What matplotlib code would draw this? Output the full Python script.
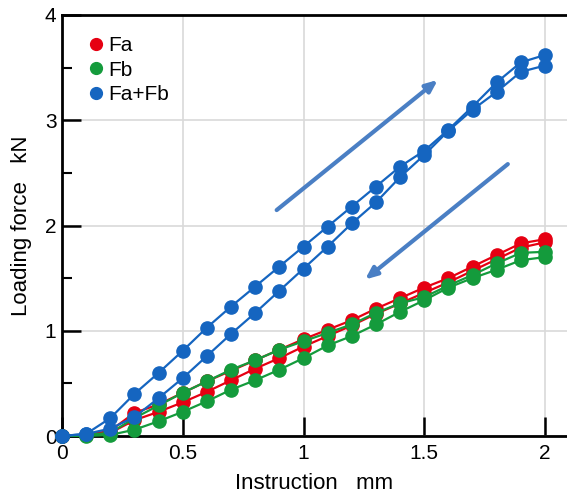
import numpy as np
import matplotlib
matplotlib.use('Agg')
import matplotlib.pyplot as plt
from matplotlib.ticker import MultipleLocator

plt.rcParams['font.family'] = ['Liberation Sans', 'DejaVu Sans']

# 変位 (mm)
x = [0.0, 0.1, 0.2, 0.3, 0.4, 0.5, 0.6, 0.7, 0.8, 0.9, 1.0,
     1.1, 1.2, 1.3, 1.4, 1.5, 1.6, 1.7, 1.8, 1.9, 2.0]

# 荷重 (kN) : 2 branches per series
fa_up = [0, 0.01, 0.05, 0.22, 0.30, 0.41, 0.52, 0.62, 0.72, 0.82, 0.92,
         1.01, 1.10, 1.21, 1.31, 1.41, 1.50, 1.61, 1.72, 1.83, 1.87]
fa_down = [0, 0.01, 0.03, 0.15, 0.23, 0.32, 0.42, 0.53, 0.64, 0.74, 0.85,
           0.95, 1.05, 1.16, 1.26, 1.36, 1.46, 1.57, 1.68, 1.79, 1.84]
fb_up = [0, 0.01, 0.03, 0.17, 0.29, 0.41, 0.52, 0.63, 0.72, 0.82, 0.90,
         0.98, 1.06, 1.17, 1.26, 1.32, 1.43, 1.53, 1.64, 1.74, 1.75]
fb_down = [0, 0.0, 0.01, 0.06, 0.14, 0.23, 0.33, 0.44, 0.53, 0.63, 0.74,
           0.86, 0.95, 1.06, 1.18, 1.29, 1.41, 1.50, 1.58, 1.67, 1.70]
fab_up = [0, 0.02, 0.17, 0.40, 0.60, 0.81, 1.03, 1.23, 1.42, 1.61, 1.80,
          1.99, 2.18, 2.37, 2.56, 2.71, 2.91, 3.13, 3.36, 3.55, 3.62]
fab_down = [0, 0.02, 0.07, 0.18, 0.36, 0.55, 0.76, 0.97, 1.17, 1.38, 1.59,
            1.80, 2.02, 2.22, 2.46, 2.67, 2.90, 3.10, 3.27, 3.46, 3.52]

# arrows (start, end) in data coords
arrow_load = [(0.88, 2.13), (1.565, 3.40)]
arrow_unload = [(1.855, 2.60), (1.246, 1.47)]

RED = '#e60012'
GREEN = '#149b3c'
BLUE = '#1565c0'
ARROW = '#4a7fc4'

fig = plt.figure(figsize=(5.67, 4.97), dpi=100)
ax = fig.add_axes([62 / 567, 61 / 497, 1 - 62 / 567, 421 / 497])

style = dict(marker='o', markersize=9.5, linewidth=1.6, clip_on=False, zorder=3)
for ys in (fa_up, fa_down):
    ax.plot(x, ys, color=RED, **style)
for ys in (fb_up, fb_down):
    ax.plot(x, ys, color=GREEN, **style)
for ys in (fab_up, fab_down):
    ax.plot(x, ys, color=BLUE, **style)

# 凡例
handles = [
    ax.plot([], [], 'o', color=c, markersize=8.5)[0] for c in (RED, GREEN, BLUE)
]
ax.legend(handles, ['Fa', 'Fb', 'Fa+Fb'], loc='upper left', frameon=False,
          fontsize=15, handletextpad=0.08, handlelength=1.0, labelspacing=0.27,
          borderaxespad=0.4, bbox_to_anchor=(0.014, 0.99))

for (x0, y0), (x1, y1) in (arrow_load, arrow_unload):
    ax.annotate('', xy=(x1, y1), xytext=(x0, y0),
                arrowprops=dict(arrowstyle='-|>,head_length=0.7,head_width=0.3',
                                color=ARROW, lw=3))

ax.set_xlim(0, (567 - 62) / 241.5)
ax.set_ylim(0, 4)
ax.yaxis.set_major_locator(MultipleLocator(1))
ax.yaxis.set_minor_locator(MultipleLocator(0.5))
ax.set_xticks([0, 0.5, 1, 1.5, 2])
ax.set_xticklabels(['0', '0.5', '1', '1.5', '2'])

ax.grid(True, which='major', color='#d9d9d9', linewidth=1.2)
ax.set_axisbelow(True)

ax.spines['right'].set_visible(False)
for s in ('left', 'bottom', 'top'):
    ax.spines[s].set_linewidth(2)
ax.tick_params(axis='both', which='major', direction='in', length=14, width=1.8,
               labelsize=15, pad=4)
ax.tick_params(axis='y', which='minor', direction='in', length=7, width=1.5)
ax.tick_params(axis='x', which='major', pad=6)

ax.set_xlabel('Instruction   mm', fontsize=16, labelpad=7)
ax.set_ylabel('Loading force   kN', fontsize=16, labelpad=9)

fig.savefig('out.png', dpi=100)
